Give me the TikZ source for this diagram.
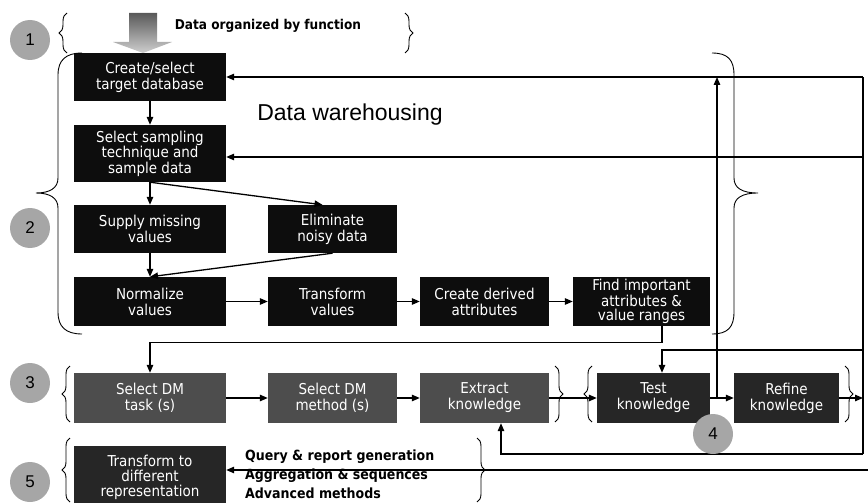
\documentclass[tikz,border=0pt]{standalone}
\usepackage{fontspec}
\setmainfont{DejaVu Sans Condensed}
\newfontfamily\arialfont{Liberation Sans}
\usetikzlibrary{arrows.meta,decorations.pathreplacing}
\definecolor{boxblack}{HTML}{0D0D0D}
\definecolor{boxgray}{HTML}{4D4D4D}
\definecolor{boxdark}{HTML}{262626}
\definecolor{badgegray}{HTML}{A6A6A6}
\definecolor{arrowtop}{HTML}{595959}
\definecolor{arrowbot}{HTML}{CFCFCF}
\tikzset{
  stepbox/.style={rectangle, fill=boxblack, text=white, inner sep=0pt, align=center, font=\fontsize{15}{16}\selectfont},
  minebox/.style={stepbox, fill=boxgray},
  darkbox/.style={stepbox, fill=boxdark},
  badge/.style={circle, fill=badgegray, minimum size=40pt, inner sep=0pt, font=\arialfont\fontsize{17}{17}\selectfont},
  note/.style={inner sep=0pt, font=\bfseries\fontsize{13.5}{20.5}\selectfont},
  arr/.style={line width=1.3pt, -{Triangle[length=8pt,width=6.5pt]}},
  wire/.style={line width=1.3pt},
  curl/.style={line width=0.9pt},
  brc/.style={curl, decorate, decoration={brace, amplitude=8pt}}
}
\begin{document}
\begin{tikzpicture}[x=1pt,y=1pt]
\useasboundingbox (0,0) rectangle (868,-503);
\shade[top color=arrowtop, bottom color=arrowbot] (129,-13) -- (157,-13) -- (157,-42) -- (172,-42) -- (143,-53) -- (113,-42) -- (129,-42) -- cycle;
\node[note] (organized) at (268,-26) {Data organized by function};
\node[font=\arialfont\fontsize{23}{23}\selectfont, inner sep=0pt] (warehouse) at (350,-115) {Data warehousing};

\node[stepbox, minimum width=152pt, minimum height=48pt] (db) at (150,-77) {Create/select\\target database};
\node[stepbox, minimum width=152pt, minimum height=57pt, font=\fontsize{15}{15.5}\selectfont] (sample) at (150,-153.5) {Select sampling\\technique and\\sample data};
\node[stepbox, minimum width=152pt, minimum height=48pt] (missing) at (150,-229) {Supply missing\\values};
\node[stepbox, minimum width=129pt, minimum height=48pt] (noisy) at (332.5,-229) {Eliminate\\noisy data};
\node[stepbox, minimum width=152pt, minimum height=49pt] (normalize) at (150,-301.5) {Normalize\\values};
\node[stepbox, minimum width=129pt, minimum height=49pt] (transform) at (332.5,-301.5) {Transform\\values};
\node[stepbox, minimum width=129pt, minimum height=49pt] (derive) at (484.5,-301.5) {Create derived\\attributes};
\node[stepbox, minimum width=137pt, minimum height=49pt, font=\fontsize{15}{14}\selectfont] (attrib) at (641.5,-301.5) {Find important\\attributes \&\\value ranges};

\node[minebox, minimum width=152pt, minimum height=50pt] (task) at (150,-398) {Select DM\\task (s)};
\node[minebox, minimum width=129pt, minimum height=50pt] (method) at (332.5,-398) {Select DM\\method (s)};
\node[minebox, minimum width=129pt, minimum height=50pt] (extract) at (484.5,-398) {Extract\\knowledge};
\node[darkbox, minimum width=113pt, minimum height=50pt] (test) at (653.5,-398) {Test\\knowledge};
\node[darkbox, minimum width=105pt, minimum height=50pt] (refine) at (786.5,-398) {Refine\\knowledge};
\node[darkbox, minimum width=152pt, minimum height=62pt, font=\fontsize{15}{15}\selectfont] (represent) at (150,-477) {Transform to\\different\\representation};
\node[note, anchor=west, align=left, font=\bfseries\fontsize{14}{19}\selectfont] (queries) at (245,-474) {Query \& report generation\\Aggregation \& sequences\\Advanced methods};

\coordinate (r1) at (863,-77); \coordinate (r2) at (863,-157); \coordinate (r3) at (863,-350);
\coordinate (r4) at (863,-454); \coordinate (r5) at (868,-470); \coordinate (split) at (717,-398);

\draw[arr] (db) -- (sample);
\draw[arr] (sample) -- (missing);
\draw[arr] (sample.south) -- ([xshift=-10pt]noisy.north);
\draw[arr] (missing) -- (normalize);
\draw[arr] (noisy.south) -- (normalize.north);
\draw[arr] (normalize) -- (transform);
\draw[arr] (transform) -- (derive);
\draw[arr] (derive) -- (attrib);
\draw[arr] ([xshift=20.5pt]attrib.south) -- ++(0,-16) -| (task.north);
\draw[arr] (task) -- (method);
\draw[arr] (method) -- (extract);
\draw[arr] (extract) -- (test);
\draw[arr] (test) -- (refine);
\draw[arr] (refine.east) -- (refine.east -| r1);
\draw[wire] (r4) -- (r1);
\draw[arr] (r1) -- (db.east |- r1);
\draw[arr] (r2) -- (sample.east |- r2);
\draw[arr] (split) -- (split |- r1);
\draw[arr] (r3) -| ([xshift=8.5pt]test.north);
\draw[arr] (r4) -| ([xshift=16.5pt]extract.south);
\draw[arr] (r5) -- (represent.east |- r5);

\draw[brc] (67,-53) -- (67,-13);
\draw[brc] (405,-13) -- (405,-53);
\draw[curl] (82,-53) .. controls (66,-53) and (58,-60) .. (58,-75) -- (58,-178) .. controls (58,-188) and (50,-193) .. (36,-193) .. controls (50,-193) and (58,-198) .. (58,-208) -- (58,-312) .. controls (58,-327) and (66,-334) .. (82,-334);
\draw[curl] (712,-53) .. controls (728,-53) and (734,-60) .. (734,-75) -- (734,-178) .. controls (734,-188) and (742,-193) .. (758,-193) .. controls (742,-193) and (734,-198) .. (734,-208) -- (734,-312) .. controls (734,-327) and (728,-334) .. (712,-334);
\draw[brc] (70,-422) -- (70,-366);
\draw[brc] (555,-366) -- (555,-422);
\draw[brc] (592,-422) -- (592,-366);
\draw[brc] (845,-366) -- (845,-422);
\draw[brc] (70,-502) -- (70,-438);
\draw[brc] (477,-438) -- (477,-502);

\node[badge] (b1) at (30,-40) {1};
\node[badge] (b2) at (30,-228) {2};
\node[badge] (b3) at (30,-383) {3};
\node[badge] (b4) at (713,-434) {4};
\node[badge] (b5) at (30,-482) {5};
\end{tikzpicture}
\end{document}
